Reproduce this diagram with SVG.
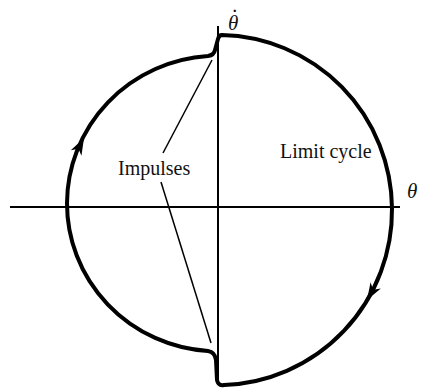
<svg xmlns="http://www.w3.org/2000/svg" width="421" height="391" viewBox="0 0 421 391">
<style>
.axis{stroke:#000;stroke-width:2;fill:none}
.cycle{stroke:#000;stroke-width:4;fill:none;stroke-linejoin:round}
.lead{stroke:#000;stroke-width:1.5;fill:none}
.lbl{font-family:"Liberation Serif","Times New Roman",serif;font-size:20px;fill:#111}
.sym{font-family:"Liberation Serif","Times New Roman",serif;font-size:21px;font-style:italic;fill:#111}
</style>
<defs>
<path id="ah" d="M 0 0 L -17 -6 L -12 0 L -17 6 Z" fill="#000"/>
</defs>
<g id="connectors">
<line class="axis" x1="10" y1="207" x2="400" y2="207"/>
<line class="axis" x1="218" y1="26" x2="218" y2="380"/>
<line class="lead" x1="163" y1="153" x2="212" y2="60"/>
<line class="lead" x1="161" y1="182" x2="211" y2="343"/>
</g>
<g id="limit-cycle">
<path class="cycle" d="M 222 35 A 174 175 0 0 1 392 208 A 174 175 0 0 1 224 385 Q 218 386 217 380 L 216 360 Q 215 352 208 351 A 151 148 0 0 1 67 203 A 151 148 0 0 1 208 56 Q 214 55 215 50 L 218 39 Q 219 35 222 35 Z"/>
<use href="#ah" transform="translate(84,138) rotate(-62.4)"/>
<use href="#ah" transform="translate(367,300) rotate(120.8)"/>
</g>
<g id="label-theta"><text class="sym" x="407" y="198">θ</text></g>
<g id="label-thetadot"><text class="sym" x="228" y="30">θ<tspan dx="-7" dy="-12" font-style="normal">·</tspan></text></g>
<g id="label-impulses"><text class="lbl" x="118" y="175">Impulses</text></g>
<g id="label-limit"><text class="lbl" x="280" y="158">Limit cycle</text></g>
</svg>
